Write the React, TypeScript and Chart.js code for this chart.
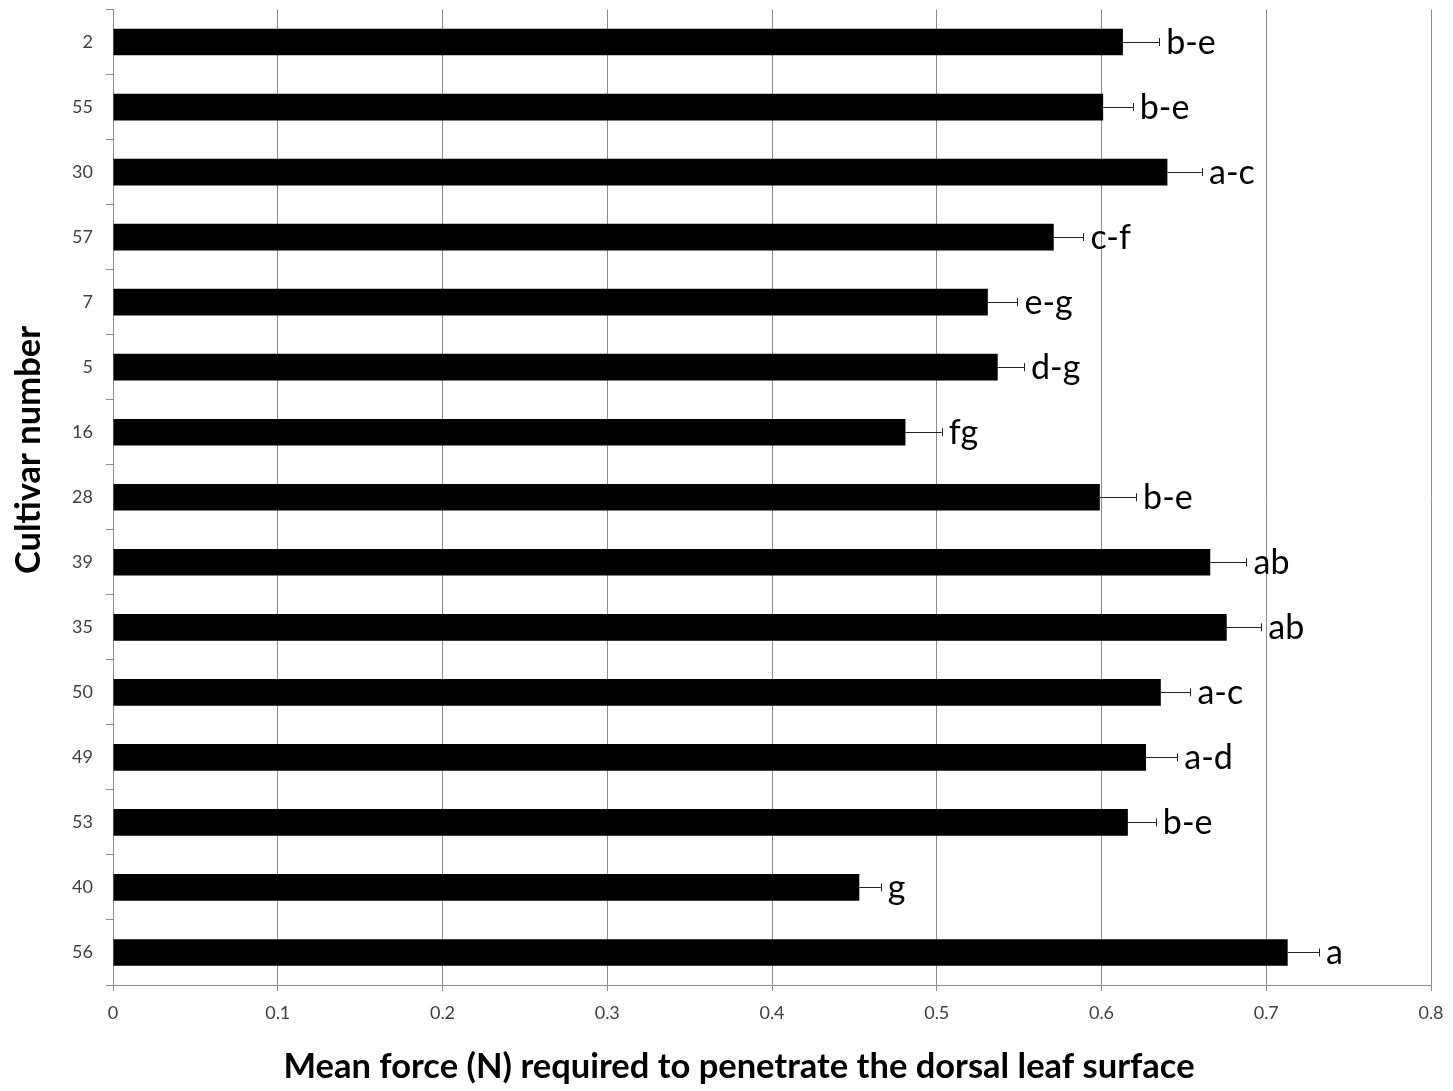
import React, { useEffect, useRef } from "react";
import { Chart, registerables } from "chart.js";

Chart.register(...registerables);

const cultivars = ["2", "55", "30", "57", "7", "5", "16", "28", "39", "35", "50", "49", "53", "40", "56"];
const meanForce = [0.613, 0.601, 0.64, 0.571, 0.531, 0.537, 0.481, 0.599, 0.666, 0.676, 0.636, 0.627, 0.616, 0.453, 0.713];
const errorPlus = [0.022, 0.018, 0.021, 0.018, 0.018, 0.016, 0.022, 0.022, 0.022, 0.021, 0.018, 0.019, 0.017, 0.013, 0.019];
const letters = ["b-e", "b-e", "a-c", "c-f", "e-g", "d-g", "fg", "b-e", "ab", "ab", "a-c", "a-d", "b-e", "g", "a"];
const xTicks = [0, 0.1, 0.2, 0.3, 0.4, 0.5, 0.6, 0.7, 0.8];
const xTitle = "Mean force (N) required to penetrate the dorsal leaf surface";
const yTitle = "Cultivar number";

const FONT = "Lato, 'Open Sans', sans-serif";
const GRID = "#8c8c8c";

const errorPlugin = {
  id: "errorBarsAndLetters",
  afterDatasetsDraw(chart: any) {
    const ctx = chart.ctx;
    const meta = chart.getDatasetMeta(0);
    const xs = chart.scales.x;
    ctx.save();
    meta.data.forEach((bar: any, i: number) => {
      const y = bar.y;
      const x0 = bar.x;
      const xe = xs.getPixelForValue(meanForce[i] + errorPlus[i]);
      ctx.strokeStyle = "#222";
      ctx.lineWidth = 1;
      ctx.beginPath();
      ctx.moveTo(x0, Math.round(y) + 0.5);
      ctx.lineTo(xe, Math.round(y) + 0.5);
      ctx.moveTo(Math.round(xe) + 0.5, y - 4);
      ctx.lineTo(Math.round(xe) + 0.5, y + 4);
      ctx.stroke();
      ctx.fillStyle = "#000";
      ctx.font = `34px ${FONT}`;
      ctx.textAlign = "left";
      ctx.textBaseline = "alphabetic";
      ctx.fillText(letters[i], xe + 7, y + 12);
    });
    ctx.restore();
  },
};

const titlePlugin = {
  id: "axisTitles",
  afterDraw(chart: any) {
    const ctx = chart.ctx;
    ctx.save();
    ctx.fillStyle = "#000";
    ctx.font = `bold 34.5px ${FONT}`;
    ctx.textAlign = "center";
    ctx.textBaseline = "middle";
    ctx.fillText(xTitle, 739, 1067);
    ctx.translate(29, 450);
    ctx.rotate(-Math.PI / 2);
    ctx.font = `bold 34.5px ${FONT}`;
    ctx.fillText(yTitle, 0, 0);
    ctx.restore();
  },
};

export default function App() {
  const ref = useRef<HTMLCanvasElement | null>(null);
  useEffect(() => {
    if (!ref.current) return;
    const chart = new Chart(ref.current, {
      type: "bar",
      data: {
        labels: cultivars,
        datasets: [
          {
            data: meanForce,
            backgroundColor: "#000",
            borderWidth: 0,
            categoryPercentage: 1,
            barPercentage: 0.41,
          },
        ],
      },
      options: {
        indexAxis: "y",
        animation: false,
        responsive: true,
        maintainAspectRatio: false,
        layout: { padding: { top: 9.5, right: 22, left: 0, bottom: 0 } },
        plugins: { legend: { display: false }, tooltip: { enabled: false } },
        scales: {
          x: {
            type: "linear",
            min: 0,
            max: 0.8,
            afterBuildTicks: (s: any) => {
              s.ticks = xTicks.map((v) => ({ value: v }));
            },
            afterFit: (s: any) => {
              s.height = 106;
              s.paddingLeft = 0;
              s.paddingRight = 0;
            },
            ticks: {
              color: "#404040",
              font: { family: FONT, size: 18 },
              padding: 11,
              maxRotation: 0,
              callback: (v: any) => String(v),
            },
            grid: { color: GRID, lineWidth: 1, drawTicks: true, tickLength: 6, tickColor: GRID },
            border: { color: GRID, width: 1 },
          },
          y: {
            afterFit: (s: any) => {
              s.width = 113;
              s.paddingTop = 0;
              s.paddingBottom = 0;
            },
            ticks: {
              color: "#404040",
              font: { family: FONT, size: 18 },
              padding: 13,
            },
            grid: { drawOnChartArea: false, drawTicks: true, tickLength: 7, color: GRID, offset: true },
            border: { color: GRID, width: 1 },
          },
        },
      },
      plugins: [errorPlugin, titlePlugin],
    });
    return () => chart.destroy();
  }, []);
  return (
    <div style={{ position: "fixed", left: 0, top: 0, width: 1453, height: 1091, background: "#fff" }}>
      <canvas ref={ref} />
    </div>
  );
}
